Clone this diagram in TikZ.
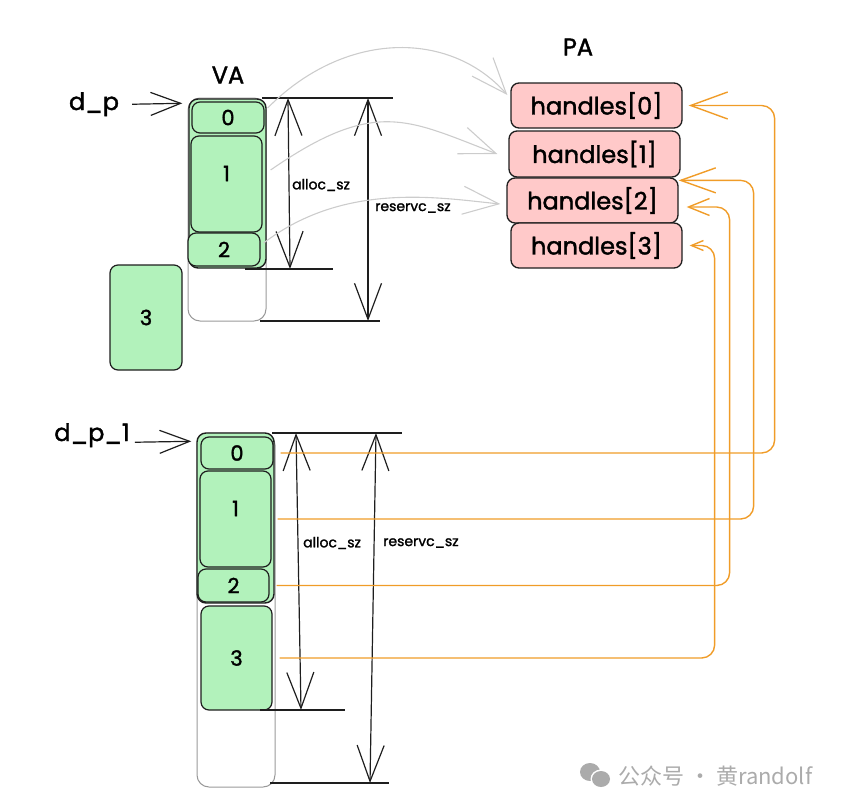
\documentclass[tikz,border=0pt]{standalone}
\usepackage{fontspec}
\setmainfont{Poppins}[RawFeature={embolden=1.6}]
\newfontfamily\cjkfont{Noto Sans CJK SC}
\usetikzlibrary{arrows.meta}
\definecolor{blkgreen}{HTML}{B2F2BB}
\definecolor{hdlpink}{HTML}{FFC9C9}
\definecolor{inkdark}{HTML}{1E1E1E}
\definecolor{lnorange}{HTML}{F09C28}
\definecolor{lngray}{HTML}{CCCCCC}
\definecolor{wmgray}{HTML}{ABABAB}

\begin{document}
\begin{tikzpicture}[x=1pt,y=-1pt,
    blk/.style={draw=inkdark,line width=1.2pt,fill=blkgreen,rounded corners=8pt,inner sep=0pt,font=\fontsize{21}{24}\selectfont},
    grp/.style={draw=inkdark,line width=1.4pt,fill=blkgreen,rounded corners=9pt,inner sep=0pt},
    frame/.style={draw=black!40,line width=1pt,rounded corners=12pt,inner sep=0pt},
    hdl/.style={draw=inkdark,line width=1.3pt,fill=hdlpink,rounded corners=8pt,minimum width=171pt,minimum height=45pt,inner sep=0pt,font=\fontsize{24}{28}\selectfont},
    lbl/.style={font=\fontsize{24}{28}\selectfont,inner sep=0pt},
    szlbl/.style={font=\fontsize{14}{16}\selectfont,inner sep=0pt,anchor=west},
    dim/.style={draw=inkdark,line width=1.2pt},
    dimarr/.style={draw=inkdark,line width=1.2pt,{Straight Barb[length=36pt,width=27pt]}-{Straight Barb[length=36pt,width=27pt]}},
    ptr/.style={draw=inkdark,line width=1.2pt,-{Straight Barb[length=30pt,width=23pt]}},
    gmap/.style={draw=lngray,line width=1.1pt,-{Straight Barb[length=36pt,width=28pt]}},
    omap/.style={draw=lnorange,line width=1.4pt,rounded corners=13pt}
  ]
  \useasboundingbox (0,0) rectangle (843,811);

  % VA, first allocation
  \node[lbl] (va) at (228,75) {VA};
  \node[lbl] (pa) at (578,47) {PA};
  \node[lbl,anchor=base] (dp) at (94,110) {d\_p};
  \node[frame,minimum width=78pt,minimum height=223pt] (frameA) at (227,209.5) {};
  \node[grp,minimum width=77pt,minimum height=169pt] (grpA) at (227.5,183.5) {};
  \node[blk,minimum width=72pt,minimum height=31pt] (a0) at (228,117.5) {0};
  \node[blk,minimum width=71pt,minimum height=96pt,text depth=21pt] (a1) at (226.5,184) {1};
  \node[blk,minimum width=72pt,minimum height=33pt] (a2) at (224,249.5) {2};
  \node[blk,minimum width=72pt,minimum height=105pt] (a3) at (146,317.5) {3};
  \draw[ptr] ([xshift=13pt]dp.east) -- ([xshift=-6pt,yshift=-5pt]grpA.north west);

  \coordinate (tA1) at (262,98);
  \coordinate (tA2) at (393,98);
  \coordinate (bA1) at (245,269);
  \coordinate (bA2) at (333,269);
  \coordinate (rA1) at (260,321);
  \coordinate (rA2) at (380,321);
  \coordinate (allocA1) at (288,98);
  \coordinate (allocA2) at (290,269);
  \coordinate (reserveA1) at (368,98);
  \coordinate (reserveA2) at (368,321);
  \draw[dim] (tA1) -- (tA2);
  \draw[dim] (bA1) -- (bA2);
  \draw[dim] (rA1) -- (rA2);
  \draw[dimarr] (allocA1) -- (allocA2);
  \draw[dimarr] (reserveA1) -- (reserveA2);
  \node[szlbl] (allocA) at (292,185) {alloc\_sz};
  \node[szlbl] (reserveA) at (375,208) {reservc\_sz};

  % PA handles
  \node[hdl] (h0) at (596.5,105.5) {handles[0]};
  \node[hdl,minimum height=46pt] (h1) at (594.5,154) {handles[1]};
  \node[hdl] (h2) at (592.5,200.5) {handles[2]};
  \node[hdl] (h3) at (596.5,245.5) {handles[3]};

  \draw[gmap] ([xshift=3pt,yshift=9.5pt]a0.east) .. controls (345,30) and (450,30) .. ([xshift=-3pt,yshift=10.5pt]h0.west);
  \draw[gmap] ([xshift=8pt,yshift=14pt]a1.east) .. controls (376,97) and (408,120) .. ([xshift=-11pt]h1.west);
  \draw[gmap] ([xshift=3pt,yshift=6.5pt]a2.east) .. controls (345,181) and (440,198) .. ([xshift=-6pt,yshift=-3.5pt]h2.west);

  % VA, second allocation
  \node[lbl,anchor=base] (dp1) at (92,441) {d\_p\_1};
  \node[frame,minimum width=78pt,minimum height=354pt] (frameB) at (236,610) {};
  \node[grp,minimum width=77pt,minimum height=170pt] (grpB) at (235.5,518) {};
  \node[blk,minimum width=72pt,minimum height=32pt] (b0) at (237,453) {0};
  \node[blk,minimum width=71pt,minimum height=96pt,text depth=21pt] (b1) at (235.5,519) {1};
  \node[blk,minimum width=71pt,minimum height=33pt] (b2) at (233.5,585.5) {2};
  \node[blk,minimum width=71pt,minimum height=104pt] (b3) at (236.5,658) {3};
  \draw[ptr] ([xshift=5pt,yshift=-7pt]dp1.east) -- ([xshift=-5pt,yshift=-9pt]grpB.north west);

  \coordinate (tB1) at (272,433);
  \coordinate (tB2) at (402,433);
  \coordinate (bB1) at (260,710);
  \coordinate (bB2) at (345,710);
  \coordinate (rB1) at (270,783);
  \coordinate (rB2) at (389,783);
  \coordinate (allocB1) at (296,433);
  \coordinate (allocB2) at (301,710);
  \coordinate (reserveB1) at (376,433);
  \coordinate (reserveB2) at (370,783);
  \draw[dim] (tB1) -- (tB2);
  \draw[dim] (bB1) -- (bB2);
  \draw[dim] (rB1) -- (rB2);
  \draw[dimarr] (allocB1) -- (allocB2);
  \draw[dimarr] (reserveB1) -- (reserveB2);
  \node[szlbl] (allocB) at (303,543) {alloc\_sz};
  \node[szlbl] (reserveB) at (383,543) {reservc\_sz};

  \draw[omap,-{Straight Barb[length=37pt,width=27pt]}] ([xshift=7pt]b0.east) -| ([xshift=92pt]h0.east) -- ([xshift=6pt]h0.east);
  \draw[omap,-{Straight Barb[length=35pt,width=25pt]}] ([xshift=6pt]b1.east) -| ([xshift=75pt,yshift=-3pt]h2.north east) -- ([yshift=-3pt]h2.north east);
  \draw[omap,-{Straight Barb[length=21pt,width=17pt]}] ([xshift=7pt]b2.east) -| ([xshift=51pt,yshift=-6.5pt]h2.east) -- ([xshift=8pt,yshift=-6.5pt]h2.east);
  \draw[omap,-{Straight Barb[length=12pt,width=10pt]}] ([xshift=7pt]b3.east) -| ([xshift=32pt]h3.east) -- ([xshift=7pt]h3.east);

  % watermark
  \fill[wmgray] (590,772) circle[x radius=10pt,y radius=9pt];
  \fill[white] (601,779) circle[x radius=10.5pt,y radius=9.5pt];
  \fill[wmgray] (601,779) circle[x radius=9pt,y radius=8pt];
  \node[font=\cjkfont\fontsize{22}{24}\selectfont,text=wmgray,anchor=west,inner sep=0pt] (wm) at (618,776) {公众号 · 黄randolf};
\end{tikzpicture}
\end{document}
